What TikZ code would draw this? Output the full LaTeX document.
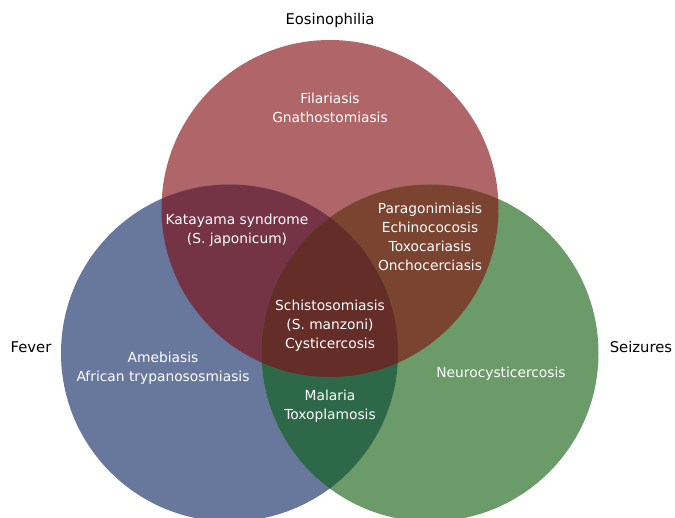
\documentclass[tikz,border=0pt]{standalone}
\usepackage{fontspec}
\setmainfont{DejaVu Sans}
\usepackage{xcolor}
\usetikzlibrary{calc}

\definecolor{eosRed}{HTML}{B06668}
\definecolor{feverBlue}{HTML}{68789D}
\definecolor{seizGreen}{HTML}{6B9B68}
\definecolor{eosFever}{HTML}{743446}
\definecolor{eosSeiz}{HTML}{7A4430}
\definecolor{feverSeiz}{HTML}{2D6948}
\definecolor{allThree}{HTML}{642D28}

\begin{document}
\begin{tikzpicture}[x = 1pt, y = -1pt,
		region/.style = {text = white, align = center, inner sep = 0pt, font = \fontsize{13.8}{19}\selectfont},
		setname/.style = {text = black, inner sep = 0pt, font = \fontsize{14.8}{19}\selectfont}]
		\def\rad{168.5};

		\useasboundingbox (0,0) rectangle (675,518);

		\coordinate (eos) at (330,208.5);
		\coordinate (fever) at (229.5,353);
		\coordinate (seiz) at (430,353);

		% single sets
		\fill [eosRed] (eos) circle (\rad);
		\fill [feverBlue] (fever) circle (\rad);
		\fill [seizGreen] (seiz) circle (\rad);

		% pairwise overlaps
		\begin{scope}
			\clip (eos) circle (\rad);
			\fill [eosFever] (fever) circle (\rad);
			\fill [eosSeiz] (seiz) circle (\rad);
		\end{scope}
		\begin{scope}
			\clip (fever) circle (\rad);
			\fill [feverSeiz] (seiz) circle (\rad);
			\clip (seiz) circle (\rad);
			\fill [allThree] (eos) circle (\rad);
		\end{scope}

		% set names
		\node [setname] (eosLabel) at (330,20) {Eosinophilia};
		\node [setname] (feverLabel) at (31,347) {Fever};
		\node [setname] (seizLabel) at (641,347) {Seizures};

		% region contents
		\node [region] (eosOnly) at (330,107.5) {Filariasis\\Gnathostomiasis};
		\node [region] (eosFeverTxt) at (237,230.5) {Katayama syndrome\\(S. japonicum)};
		\node [region] (eosSeizTxt) at (430,236.5) {Paragonimiasis\\Echinococosis\\Toxocariasis\\Onchocerciasis};
		\node [region] (centreTxt) at (330,326) {Schistosomiasis\\(S. manzoni)\\Cysticercosis};
		\node [region] (feverOnly) at (163,368.5) {Amebiasis\\African trypanososmiasis};
		\node [region] (feverSeizTxt) at (330,406) {Malaria\\Toxoplamosis};
		\node [region] (seizOnly) at (501,374) {Neurocysticercosis};
	\end{tikzpicture}
\end{document}
